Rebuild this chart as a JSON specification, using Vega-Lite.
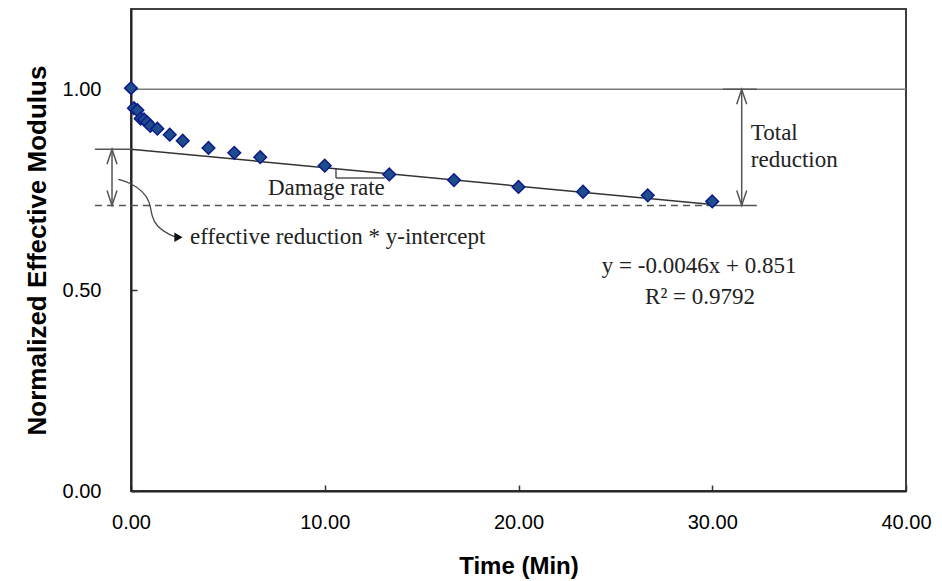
{
  "$schema": "https://vega.github.io/schema/vega-lite/v6.json",
  "width": 775,
  "height": 482,
  "autosize": {"type": "none"},
  "padding": {"left": 131, "top": 9, "right": 36, "bottom": 90},
  "background": "white",
  "config": {
    "view": {"stroke": "#404040", "strokeWidth": 2},
    "axis": {
      "labelFont": "Liberation Sans",
      "labelFontSize": 20,
      "labelColor": "#000000",
      "titleFont": "Liberation Sans",
      "titleFontWeight": "bold",
      "titleFontSize": 24,
      "titleColor": "#000000",
      "domainColor": "#222222",
      "domainWidth": 2,
      "tickColor": "#333333",
      "tickWidth": 1.5,
      "tickSize": -6,
      "grid": false
    }
  },
  "datasets": {
    "points": [
      {"t": 0.0, "m": 1.003},
      {"t": 0.15, "m": 0.953},
      {"t": 0.33, "m": 0.948},
      {"t": 0.5, "m": 0.927},
      {"t": 0.67, "m": 0.925},
      {"t": 0.83, "m": 0.918},
      {"t": 1.0, "m": 0.909},
      {"t": 1.36, "m": 0.902},
      {"t": 2.0, "m": 0.887},
      {"t": 2.67, "m": 0.872},
      {"t": 4.0, "m": 0.854},
      {"t": 5.33, "m": 0.842},
      {"t": 6.67, "m": 0.831},
      {"t": 10.0, "m": 0.81},
      {"t": 13.33, "m": 0.788},
      {"t": 16.67, "m": 0.774},
      {"t": 20.0, "m": 0.757},
      {"t": 23.33, "m": 0.745},
      {"t": 26.67, "m": 0.736},
      {"t": 30.0, "m": 0.721}
    ],
    "segments": [
      {"kind": "fit", "x": 0, "y": 0.851, "x2": 30, "y2": 0.713},
      {"kind": "ref", "x": 0, "y": 1.0, "x2": 40, "y2": 1.0},
      {"kind": "dash", "x": -1.86, "y": 0.711, "x2": 29.7, "y2": 0.711},
      {"kind": "solid", "x": -1.86, "y": 0.851, "x2": 0, "y2": 0.851},
      {"kind": "solid", "x": 29.7, "y": 0.711, "x2": 32.3, "y2": 0.711},
      {"kind": "solid", "x": 30.55, "y": 1.0, "x2": 32.3, "y2": 1.0},
      {"kind": "solid", "x": -0.98, "y": 0.851, "x2": -0.98, "y2": 0.711},
      {"kind": "solid", "x": 31.52, "y": 1.0, "x2": 31.52, "y2": 0.711},
      {"kind": "solid", "x": 10.58, "y": 0.802, "x2": 10.58, "y2": 0.779},
      {"kind": "solid", "x": 10.58, "y": 0.779, "x2": 13.1, "y2": 0.779}
    ],
    "heads": [
      {"dir": "up", "x": -0.98, "y": 0.851},
      {"dir": "down", "x": -0.98, "y": 0.711},
      {"dir": "up", "x": 31.52, "y": 1.0},
      {"dir": "down", "x": 31.52, "y": 0.711}
    ],
    "curve": [
      {"i": 0, "x": -0.656, "y": 0.776},
      {"i": 1, "x": -0.052, "y": 0.768},
      {"i": 2, "x": 0.635, "y": 0.745},
      {"i": 3, "x": 0.981, "y": 0.72},
      {"i": 4, "x": 1.068, "y": 0.683},
      {"i": 5, "x": 1.326, "y": 0.658},
      {"i": 6, "x": 2.013, "y": 0.637},
      {"i": 7, "x": 2.35, "y": 0.632}
    ],
    "tip": [{"x": 2.45, "y": 0.632}],
    "labels": [
      {"text": "Damage rate", "x": 7.07, "y": 0.754, "align": "left"},
      {"text": "effective reduction * y-intercept", "x": 3.05, "y": 0.632, "align": "left"},
      {"text": "Total", "x": 31.99, "y": 0.891, "align": "left"},
      {"text": "reduction", "x": 31.99, "y": 0.824, "align": "left"},
      {"text": "y = -0.0046x + 0.851", "x": 29.32, "y": 0.561, "align": "center"},
      {"text": "R² = 0.9792", "x": 29.37, "y": 0.483, "align": "center"}
    ]
  },
  "layer": [
    {
      "data": {"name": "segments"},
      "transform": [{"filter": "datum.kind === 'ref'"}],
      "mark": {"type": "rule", "color": "#7a7a7a", "strokeWidth": 1.5},
      "encoding": {
        "x": {"field": "x", "type": "quantitative"},
        "y": {"field": "y", "type": "quantitative"},
        "x2": {"field": "x2"},
        "y2": {"field": "y2"}
      }
    },
    {
      "data": {"name": "segments"},
      "transform": [{"filter": "datum.kind === 'dash'"}],
      "mark": {"type": "rule", "color": "#555555", "strokeWidth": 1.5, "strokeDash": [7, 5]},
      "encoding": {
        "x": {"field": "x", "type": "quantitative"},
        "y": {"field": "y", "type": "quantitative"},
        "x2": {"field": "x2"},
        "y2": {"field": "y2"}
      }
    },
    {
      "data": {"name": "segments"},
      "transform": [{"filter": "datum.kind === 'solid'"}],
      "mark": {"type": "rule", "color": "#555555", "strokeWidth": 1.5},
      "encoding": {
        "x": {"field": "x", "type": "quantitative"},
        "y": {"field": "y", "type": "quantitative"},
        "x2": {"field": "x2"},
        "y2": {"field": "y2"}
      }
    },
    {
      "data": {"name": "segments"},
      "transform": [{"filter": "datum.kind === 'fit'"}],
      "mark": {"type": "rule", "color": "#333333", "strokeWidth": 1.5},
      "encoding": {
        "x": {"field": "x", "type": "quantitative"},
        "y": {"field": "y", "type": "quantitative"},
        "x2": {"field": "x2"},
        "y2": {"field": "y2"}
      }
    },
    {
      "data": {"name": "heads"},
      "transform": [{"filter": "datum.dir === 'up'"}],
      "mark": {"type": "point", "filled": false, "stroke": "#555555", "strokeWidth": 1.5, "size": 100, "shape": "M-1,3L0,0L1,3", "opacity": 1},
      "encoding": {
        "x": {"field": "x", "type": "quantitative"},
        "y": {"field": "y", "type": "quantitative"}
      }
    },
    {
      "data": {"name": "heads"},
      "transform": [{"filter": "datum.dir === 'down'"}],
      "mark": {"type": "point", "filled": false, "stroke": "#555555", "strokeWidth": 1.5, "size": 100, "shape": "M-1,-3L0,0L1,-3", "opacity": 1},
      "encoding": {
        "x": {"field": "x", "type": "quantitative"},
        "y": {"field": "y", "type": "quantitative"}
      }
    },
    {
      "data": {"name": "curve"},
      "mark": {"type": "line", "color": "#444444", "strokeWidth": 1.3, "interpolate": "basis"},
      "encoding": {
        "x": {"field": "x", "type": "quantitative"},
        "y": {"field": "y", "type": "quantitative"},
        "order": {"field": "i"}
      }
    },
    {
      "data": {"name": "tip"},
      "mark": {"type": "point", "filled": true, "color": "#111111", "size": 90, "shape": "triangle-right", "opacity": 1},
      "encoding": {
        "x": {"field": "x", "type": "quantitative"},
        "y": {"field": "y", "type": "quantitative"}
      }
    },
    {
      "data": {"name": "points"},
      "mark": {"type": "point", "shape": "diamond", "filled": true, "fill": "#1f4d8c", "stroke": "#0b1b8a", "strokeWidth": 1.5, "size": 160, "opacity": 1},
      "encoding": {
        "x": {
          "field": "t",
          "type": "quantitative",
          "scale": {"domain": [0, 40], "nice": false, "zero": false},
          "axis": {"values": [0, 10, 20, 30, 40], "format": ".2f", "title": "Time (Min)", "labelPadding": 27, "titlePadding": 22, "labelFlush": false}
        },
        "y": {
          "field": "m",
          "type": "quantitative",
          "scale": {"domain": [0, 1.2], "nice": false, "zero": false},
          "axis": {"values": [0, 0.5, 1.0], "format": ".2f", "title": "Normalized Effective Modulus", "titleFontSize": 26, "labelPadding": 36, "titlePadding": 12, "labelFlush": false}
        }
      }
    },
    {
      "data": {"name": "labels"},
      "transform": [{"filter": "datum.align === 'left'"}],
      "mark": {"type": "text", "font": "Liberation Serif", "fontSize": 23, "color": "#222222", "align": "left", "baseline": "middle"},
      "encoding": {
        "x": {"field": "x", "type": "quantitative"},
        "y": {"field": "y", "type": "quantitative"},
        "text": {"field": "text"}
      }
    },
    {
      "data": {"name": "labels"},
      "transform": [{"filter": "datum.align === 'center'"}],
      "mark": {"type": "text", "font": "Liberation Serif", "fontSize": 23, "color": "#222222", "align": "center", "baseline": "middle"},
      "encoding": {
        "x": {"field": "x", "type": "quantitative"},
        "y": {"field": "y", "type": "quantitative"},
        "text": {"field": "text"}
      }
    }
  ]
}
